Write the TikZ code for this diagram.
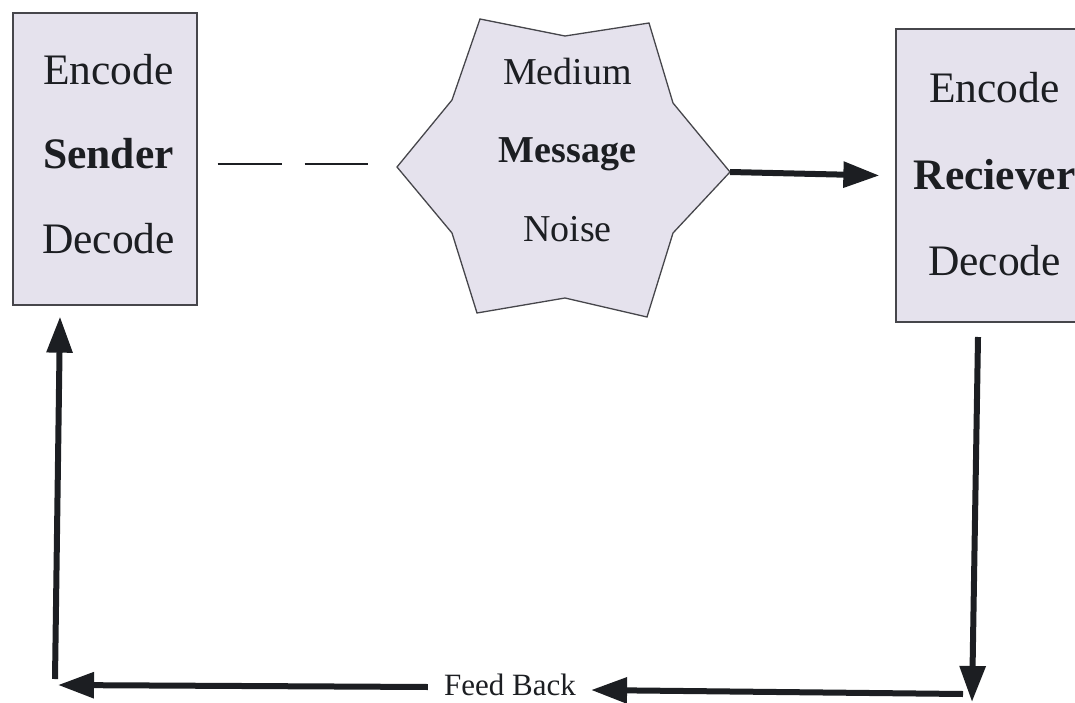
\documentclass[tikz,border=0pt]{standalone}
\usepackage{fontspec}
\setmainfont{Liberation Serif}
\usetikzlibrary{arrows.meta}
\definecolor{pastel}{RGB}{229,226,237}
\definecolor{ink}{RGB}{28,30,34}
\definecolor{edge}{RGB}{70,70,75}
\tikzset{
  panel/.style={draw=edge, line width=1.3pt, fill=pastel, inner sep=0pt},
  bigtxt/.style={font=\fontsize{43.5}{48}\selectfont, text=ink, anchor=base, inner sep=0pt},
  bigbold/.style={bigtxt, font=\fontsize{43.5}{48}\selectfont\bfseries},
  midtxt/.style={font=\fontsize{38}{42}\selectfont, text=ink, anchor=base, inner sep=0pt},
  midbold/.style={midtxt, font=\fontsize{38}{42}\selectfont\bfseries},
  fbtxt/.style={font=\fontsize{31}{35}\selectfont, text=ink, inner sep=0pt},
  arr/.style={draw=ink, line width=6pt, -{Triangle[length=36pt,width=25pt]}},
  dashln/.style={draw=ink, line width=2.6pt, dash pattern=on 64pt off 23pt}
}
\begin{document}
\begin{tikzpicture}[x=1pt,y=-1pt]
\useasboundingbox (0,0) rectangle (1075,703);
\clip (0,0) rectangle (1075,703);

% sender box
\node[panel, minimum width=184pt, minimum height=292pt] (sender) at (105,159) {};
\node[bigtxt] (senc) at (108.5,85) {Encode};
\node[bigbold] (sname) at (108.5,169) {Sender};
\node[bigtxt] (sdec) at (108.5,253) {Decode};

% receiver box
\node[panel, minimum width=196pt, minimum height=293pt] (receiver) at (994,175.5) {};
\node[bigtxt] (renc) at (994.5,103) {Encode};
\node[bigbold] (rname) at (994.5,190) {Reciever};
\node[bigtxt] (rdec) at (994.5,275) {Decode};

% message star
\draw[panel] (480,19) -- (565,36) -- (649,23) -- (673,103) -- (730,172) -- (673,233)
  -- (647,317) -- (565,298) -- (477,313) -- (452,233) -- (397,167) -- (452,100) -- cycle;
\coordinate (hl) at (397,167);
\coordinate (hr) at (730,172);
\node[midtxt] (med) at (567.5,85) {Medium};
\node[midbold] (msg) at (567.5,163) {Message};
\node[midtxt] (noise) at (567.5,241) {Noise};

% feed back label
\node[fbtxt] (feed) at (510,685) {Feed Back};

% corner coordinates
\coordinate (rtop) at (978,337);
\coordinate (rbot) at (972,702);
\coordinate (bright) at (963,694);
\coordinate (bleft) at (58,685);
\coordinate (lbot) at (55,679);

% connectors
\draw[dashln] ([xshift=20pt,yshift=-5pt]sender.east) -- ([xshift=-29pt,yshift=3pt]hl);
\draw[arr] (hr) -- ([xshift=-16pt]receiver.west);
\draw[arr] (rtop) -- (rbot);
\draw[arr] (bright) -- ([xshift=15pt,yshift=-5pt]feed.east);
\draw[arr] ([xshift=-16pt,yshift=-2pt]feed.west) -- (bleft);
\draw[arr] (lbot) -- ([xshift=-45pt,yshift=-11pt]sender.south);
\end{tikzpicture}
\end{document}
